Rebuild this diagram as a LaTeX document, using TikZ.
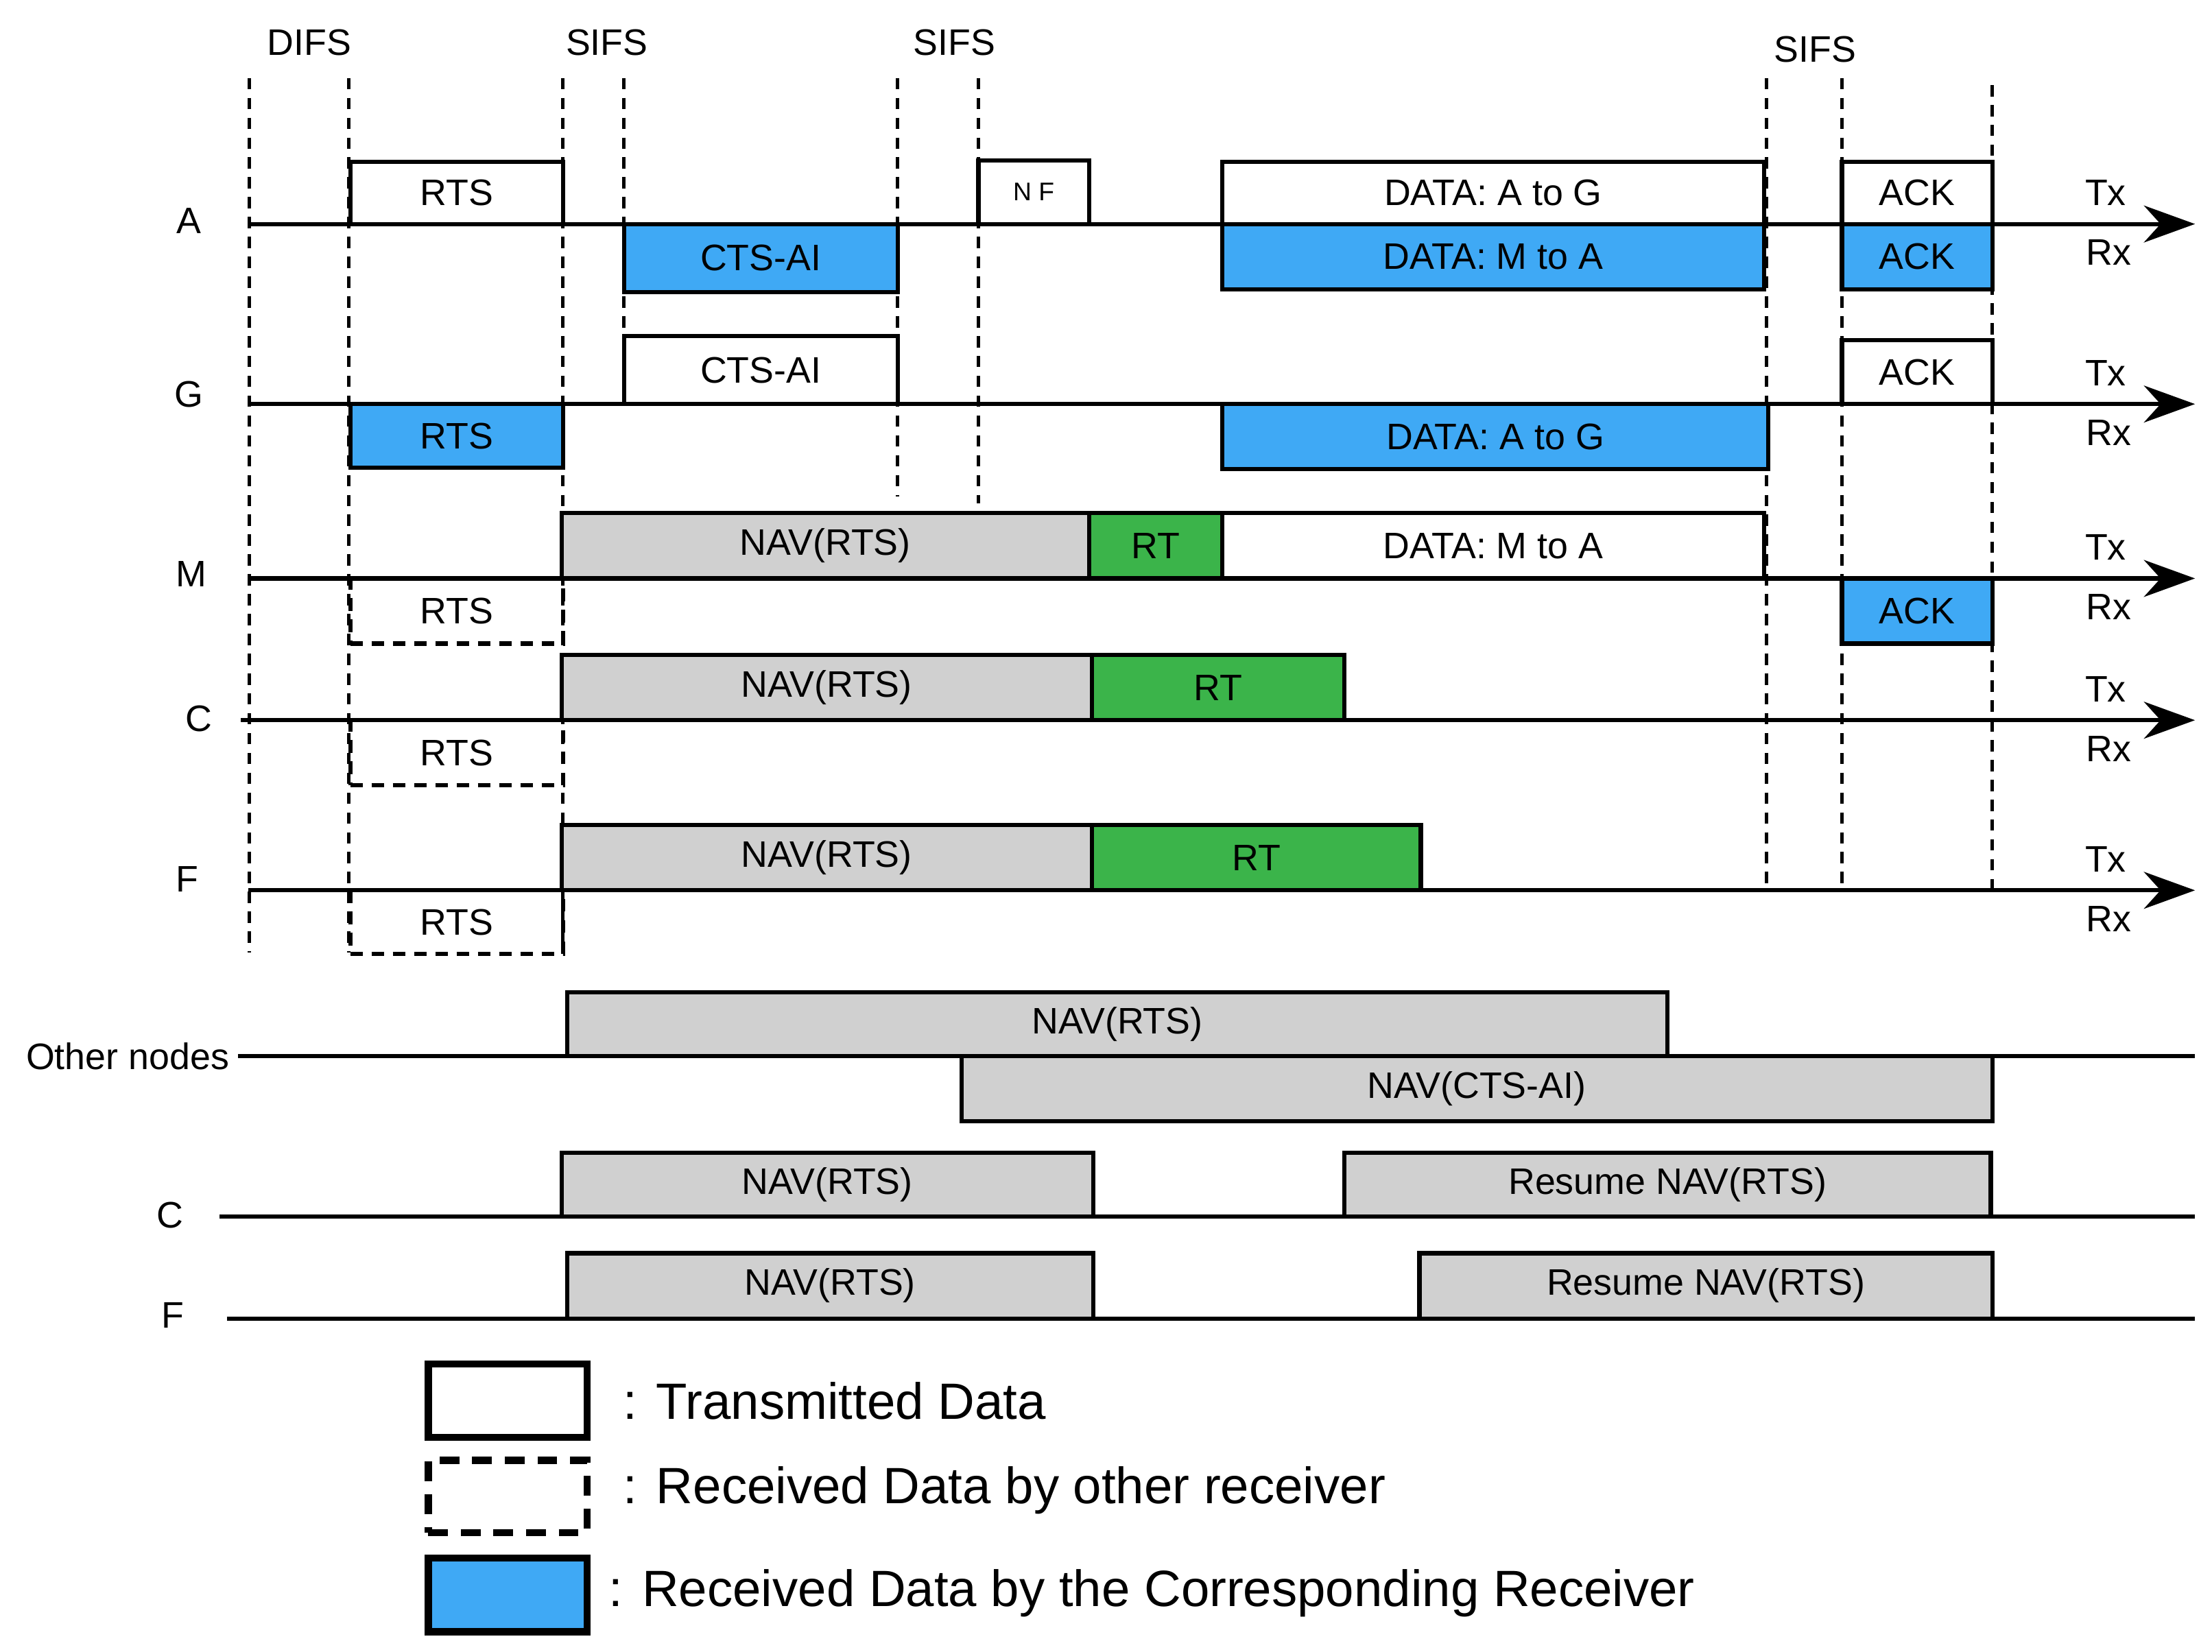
\documentclass[tikz,border=0pt]{standalone}
\usepackage{fontspec}
\setmainfont{Liberation Sans}
\usetikzlibrary{arrows.meta}
\definecolor{rxblue}{HTML}{3FA9F5}
\definecolor{rtgreen}{HTML}{3BB44A}
\definecolor{navgray}{HTML}{D0D0D0}
\tikzset{
  bx/.style={draw=black,line width=3pt,inner sep=0pt,outer sep=0pt,anchor=north west,font=\fontsize{26}{30}\selectfont},
  tx/.style={bx,fill=white},
  rx/.style={bx,fill=rxblue},
  ot/.style={bx,fill=none,dash pattern=on 9pt off 6pt},
  nav/.style={bx,fill=navgray},
  rt/.style={bx,fill=rtgreen},
  tl/.style={line width=3pt},
  tla/.style={tl,-{Stealth[length=36pt,width=26pt]}},
  vd/.style={line width=2.5pt,dash pattern=on 8pt off 6pt},
  lab/.style={font=\fontsize{26}{30}\selectfont},
  leg/.style={font=\fontsize{36}{42}\selectfont,anchor=west},
}
\newcommand{\bx}[7]{%
  \pgfmathsetmacro{\ww}{#4-#2}\pgfmathsetmacro{\hh}{#5-#3}%
  \node[#6,minimum width=\ww pt,minimum height=\hh pt] (#1) at (#2,#3) {#7};}
\begin{document}
\begin{tikzpicture}[x=1pt,y=-1pt]
\useasboundingbox (0,0) rectangle (1560,1165);
\foreach \x/\a/\b in {176/55/672,246/55/672,397/55/672,440/55/285,633/55/350,690/55/355,1246/55/628,1299/55/628,1405/60/628}
  {\coordinate (t\x) at (\x,\a); \coordinate (b\x) at (\x,\b); \draw[vd] (t\x) -- (b\x);}
\node[lab] (difs) at (218,30) {DIFS};
\node[lab] (s1) at (428,30) {SIFS};
\node[lab] (s2) at (673,30) {SIFS};
\node[lab] (s3) at (1280,35) {SIFS};
\foreach \n/\y/\s in {A/158/175,G/285/175,M/408/175,C/508/170,F/628/175}{
  \coordinate (l\n) at (\s,\y); \coordinate (r\n) at (1548,\y);
  \draw[tla] (l\n) -- (r\n);
  \node[lab] (tx\n) at (1485,\y-22) {Tx};
  \node[lab] (rx\n) at (1487,\y+20) {Rx};}
\node[lab] (nA) at (133,156) {A};
\node[lab] (nG) at (133,278) {G};
\node[lab] (nM) at (135,405) {M};
\node[lab] (nC) at (140,507) {C};
\node[lab] (nF) at (132,620) {F};
\node[lab] (nO) at (90,745) {Other nodes};
\node[lab] (nC2) at (120,857) {C};
\node[lab] (nF2) at (122,928) {F};
\coordinate (o1) at (168,745); \coordinate (o2) at (1548,745); \draw[tl] (o1) -- (o2);
\coordinate (c1) at (155,858); \coordinate (c2) at (1548,858); \draw[tl] (c1) -- (c2);
\coordinate (f1) at (160,930); \coordinate (f2) at (1548,930); \draw[tl] (f1) -- (f2);
\bx{a1}{247}{114}{397}{158}{tx}{RTS}
\bx{a2}{440}{158}{633}{206}{rx}{CTS-AI}
\bx{a3}{690}{113}{768}{158}{tx}{\fontsize{18}{22}\selectfont N F}
\bx{a4}{862}{114}{1244}{158}{tx}{DATA: A to G}
\bx{a5}{862}{158}{1244}{204}{rx}{DATA: M to A}
\bx{a6}{1299}{114}{1405}{158}{tx}{ACK}
\bx{a7}{1299}{158}{1405}{204}{rx}{ACK}
\bx{g1}{440}{237}{633}{285}{tx}{CTS-AI}
\bx{g2}{247}{285}{397}{330}{rx}{RTS}
\bx{g3}{1299}{240}{1405}{285}{tx}{ACK}
\bx{g4}{862}{285}{1247}{331}{rx}{DATA: A to G}
\bx{m1}{396}{362}{768}{408}{nav}{NAV(RTS)}
\bx{m2}{768}{362}{862}{408}{rt}{RT}
\bx{m3}{862}{362}{1244}{408}{tx}{DATA: M to A}
\bx{m4}{247}{408}{397}{454}{ot}{RTS}
\bx{m5}{1299}{408}{1405}{454}{rx}{ACK}
\bx{c3}{396}{462}{770}{508}{nav}{NAV(RTS)}
\bx{c4}{770}{462}{948}{508}{rt}{RT}
\bx{c5}{247}{508}{397}{554}{ot}{RTS}
\bx{f3}{396}{582}{770}{628}{nav}{NAV(RTS)}
\bx{f4}{770}{582}{1002}{628}{rt}{RT}
\bx{f5}{247}{628}{397}{673}{ot}{RTS}
\bx{o3}{400}{700}{1176}{745}{nav}{NAV(RTS)}
\bx{o4}{678}{745}{1405}{791}{nav}{NAV(CTS-AI)}
\bx{c6}{396}{813}{771}{858}{nav}{NAV(RTS)}
\bx{c7}{948}{813}{1404}{858}{nav}{Resume NAV(RTS)}
\bx{f6}{400}{884}{771}{930}{nav}{NAV(RTS)}
\bx{f7}{1001}{884}{1405}{930}{nav}{Resume NAV(RTS)}
\bx{k1}{302}{962}{414}{1014}{tx,line width=5pt}{}
\bx{k2}{302}{1030}{414}{1081}{ot,line width=5pt,dash pattern=on 14pt off 9pt}{}
\bx{k3}{302}{1099}{414}{1151}{rx,line width=5pt}{}
\node[leg] (kt1) at (436,988) {: Transmitted Data};
\node[leg] (kt2) at (436,1051) {: Received Data by other receiver};
\node[leg] (kt3) at (426,1124) {: Received Data by the Corresponding Receiver};
\end{tikzpicture}
\end{document}
